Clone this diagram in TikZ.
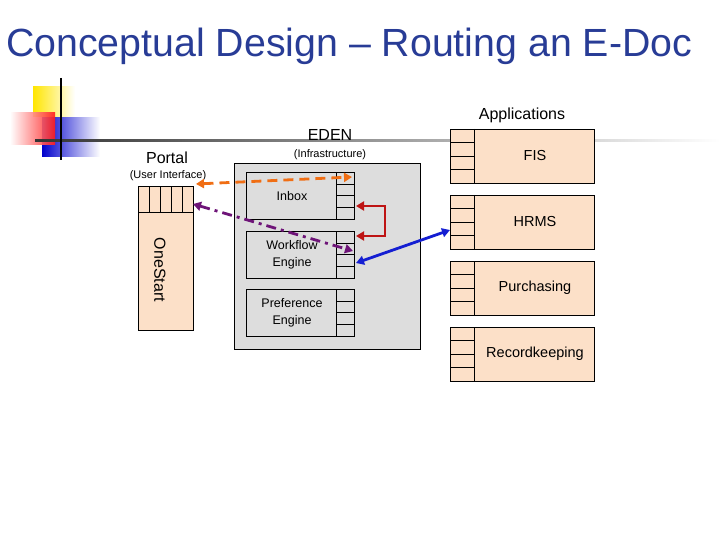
\documentclass[tikz,border=0pt]{standalone}
\usepackage{fontspec}
\setmainfont{Liberation Sans}
\usetikzlibrary{arrows.meta}
\definecolor{peach}{RGB}{252,224,200}
\definecolor{boxgray}{RGB}{221,221,221}
\definecolor{titleblue}{RGB}{40,60,150}
\definecolor{myorange}{RGB}{240,110,20}
\definecolor{mypurple}{RGB}{110,20,120}
\definecolor{myred}{RGB}{190,20,20}
\definecolor{myblue}{RGB}{20,30,210}
\begin{document}
\begin{tikzpicture}[x=1pt,y=-1pt,
  lbl/.style={inner sep=0pt,font=\fontsize{14.5}{17}\selectfont},
  small/.style={inner sep=0pt,font=\fontsize{11}{13}\selectfont},
  comp/.style={draw=black,fill=boxgray,line width=0.5pt},
  app/.style={draw=black,fill=peach,line width=0.5pt},
  darr/.style={line width=2.8pt,{Triangle[length=8pt,width=9pt]}-{Triangle[length=8pt,width=9pt]}}]
\useasboundingbox (0,0) rectangle (720,540);
% decoration
\shade[left color=yellow!80!orange,right color=white] (33,87) rectangle (75,117);
\shade[left color=blue!80!black,right color=white] (42,118) rectangle (100,157);
\shade[left color=white,right color=red!90,opacity=0.9] (10,113) rectangle (55,145);
\shade[left color=black!80,right color=white] (35,140) rectangle (720,142);
\draw[line width=1.5pt] (61,78) -- (61,160);
% title
\node[inner sep=0pt,anchor=west,text=titleblue,font=\fontsize{39.3}{44}\selectfont] (title) at (6,46) {Conceptual Design -- Routing an E-Doc};
% portal
\node[lbl,font=\fontsize{16}{19}\selectfont] (portal) at (167,158) {Portal};
\node[small] (ui) at (168,176) {(User Interface)};
\node[app,minimum width=55pt,minimum height=144pt,inner sep=0pt] (onestart) at (165.5,258) {};
\foreach \i in {0,...,4} \draw (138+\i*11,186) rectangle (149+\i*11,212);
\node[lbl,rotate=-90,font=\fontsize{16}{19}\selectfont] (ostext) at (160,270) {OneStart};
% EDEN
\node[lbl,font=\fontsize{16}{19}\selectfont] (eden) at (330,135) {EDEN};
\node[small] (infra) at (330,155) {(Infrastructure)};
\node[comp,minimum width=186pt,minimum height=186pt,inner sep=0pt] (edenbox) at (327,256) {};
\foreach \n/\y/\t in {inbox/172/Inbox,wf/231/Workflow\\Engine,pref/289/Preference\\Engine}{
  \node[comp,minimum width=108pt,minimum height=47pt,inner sep=0pt] (\n) at (300,\y+23.5) {};
  \foreach \k in {0,...,3} \draw (336,\y+\k*11.75) rectangle (354,\y+\k*11.75+11.75);
  \node[lbl,align=center,font=\fontsize{12.5}{17}\selectfont] at (292,\y+24) {\t};
}
% apps
\node[lbl,font=\fontsize{16}{19}\selectfont] (appl) at (522,115) {Applications};
\foreach \n/\y/\t in {fis/129/FIS,hrms/195/HRMS,purch/261/Purchasing,rec/327/Recordkeeping}{
  \node[app,minimum width=144pt,minimum height=54pt,inner sep=0pt] (\n) at (522,\y+27) {};
  \foreach \k in {0,...,3} \draw (450,\y+\k*13.5) rectangle (474,\y+\k*13.5+13.5);
  \draw (474,\y) -- (474,\y+54);
  \node[lbl] at (535,\y+27) {\t};
}
% connectors
\coordinate (o1) at (196,184); \coordinate (o2) at (352,177);
\draw[darr,myorange,dash pattern=on 10pt off 6pt] (o1) -- (o2);
\coordinate (p1) at (193,204); \coordinate (p2) at (353,251);
\draw[darr,mypurple,dash pattern=on 10pt off 5pt on 3pt off 5pt] (p1) -- (p2);
\coordinate (r1) at (356,206); \coordinate (r2) at (356,236);
\draw[myred,line width=2.8pt,{Triangle[length=8pt,width=9pt]}-{Triangle[length=8pt,width=9pt]}] (r1) -- (385,206) -- (385,236) -- (r2);
\coordinate (b1) at (356,263); \coordinate (b2) at (450,230);
\draw[darr,myblue] (b1) -- (b2);
\end{tikzpicture}
\end{document}
